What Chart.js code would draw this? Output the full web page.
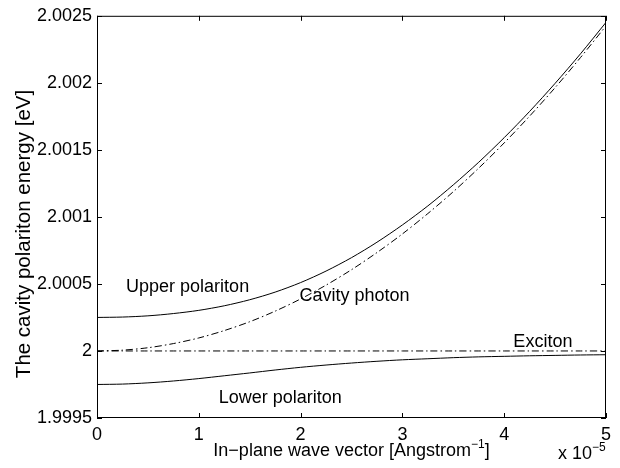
<!DOCTYPE html>
<html>
<head>
<meta charset="utf-8">
<script src="https://cdn.jsdelivr.net/npm/chart.js@4/dist/chart.umd.min.js"></script>
<style>
  html, body { margin: 0; padding: 0; background: #fff; }
  #wrap { width: 620px; height: 468px; }
</style>
</head>
<body>
<div id="wrap"><canvas id="chart"></canvas></div>
<script>
// polariton dispersion (x in units of 1e-5 1/Angstrom)
const K = [0, 0.25, 0.5, 0.75, 1, 1.25, 1.5, 1.75, 2, 2.25, 2.5, 2.75, 3, 3.25, 3.5, 3.75, 4, 4.25, 4.5, 4.75, 5];
const UPPER = [2.00025, 2.000253, 2.000262, 2.000279, 2.000303, 2.000337, 2.000382, 2.000439, 2.000510, 2.000596,
  2.000696, 2.000811, 2.000940, 2.001082, 2.001239, 2.001408, 2.001591, 2.001787, 2.001996, 2.002217, 2.002451];
const CAVITY = [2.0, 2.000006, 2.000024, 2.000055, 2.000097, 2.000152, 2.000218, 2.000297, 2.000388, 2.000491,
  2.000606, 2.000734, 2.000873, 2.001025, 2.001188, 2.001364, 2.001552, 2.001752, 2.001964, 2.002189, 2.002425];
const EXCITON = [2, 2, 2, 2, 2, 2, 2, 2, 2, 2, 2, 2, 2, 2, 2, 2, 2, 2, 2, 2, 2];
const LOWER = [1.99975, 1.999753, 1.999762, 1.999776, 1.999794, 1.999815, 1.999836, 1.999858, 1.999878, 1.999895,
  1.999910, 1.999923, 1.999934, 1.999942, 1.999950, 1.999956, 1.999960, 1.999964, 1.999967, 1.999970, 1.999972];

const X_TICKS = [0, 1, 2, 3, 4, 5];
const Y_TICKS = [1.9995, 2, 2.0005, 2.001, 2.0015, 2.002, 2.0025];

const NOTES = [
  { text: 'Upper polariton', x: 0.89, y: 2.00048 },
  { text: 'Cavity photon',   x: 2.53, y: 2.00041 },
  { text: 'Exciton',         x: 4.38, y: 2.000067 },
  { text: 'Lower polariton', x: 1.80, y: 1.99965 },
];

const FONT = '"Liberation Sans", Arial, Helvetica, sans-serif';
const DASHDOT = [7, 3, 1.5, 3];

const toPts = ys => K.map((k, i) => ({ x: k, y: ys[i] }));
const line = (ys, dash) => ({
  data: toPts(ys), borderColor: '#000', borderWidth: 1, borderDash: dash,
  pointRadius: 0, tension: 0.3, fill: false,
});

// MATLAB-like frame: box with inward ticks on all four sides, plus text
const framePlugin = {
  id: 'frame',
  afterDraw(chart) {
    const { ctx, chartArea: a, scales: { x, y } } = chart;
    ctx.save();
    ctx.strokeStyle = '#000';
    ctx.lineWidth = 1;
    ctx.strokeRect(a.left + 0.5, a.top + 0.5, a.right - a.left - 1, a.bottom - a.top - 1);
    ctx.beginPath();
    for (const v of X_TICKS) {
      const px = Math.round(x.getPixelForValue(v)) + 0.5;
      ctx.moveTo(px, a.bottom); ctx.lineTo(px, a.bottom - 5);
      ctx.moveTo(px, a.top); ctx.lineTo(px, a.top + 5);
    }
    for (const v of Y_TICKS) {
      const py = Math.round(y.getPixelForValue(v)) + 0.5;
      ctx.moveTo(a.left, py); ctx.lineTo(a.left + 5, py);
      ctx.moveTo(a.right, py); ctx.lineTo(a.right - 5, py);
    }
    ctx.stroke();

    ctx.fillStyle = '#000';
    ctx.font = '18px ' + FONT;
    ctx.textAlign = 'center';
    ctx.textBaseline = 'middle';
    for (const n of NOTES) ctx.fillText(n.text, x.getPixelForValue(n.x), y.getPixelForValue(n.y));

    // y title
    ctx.save();
    ctx.translate(24, 234);
    ctx.rotate(-Math.PI / 2);
    ctx.font = '20.5px ' + FONT;
    ctx.fillText('The cavity polariton energy [eV]', 0, 0);
    ctx.restore();

    // x title with superscript
    ctx.textBaseline = 'alphabetic';
    ctx.textAlign = 'left';
    const main = 'In\u2212plane wave vector [Angstrom';
    const sup = '\u22121';
    ctx.font = '18px ' + FONT;
    const wMain = ctx.measureText(main).width, wEnd = ctx.measureText(']').width;
    ctx.font = '12px ' + FONT;
    const wSup = ctx.measureText(sup).width;
    let sx = (a.left + a.right) / 2 - (wMain + wSup + wEnd) / 2;
    const base = 456;
    ctx.font = '18px ' + FONT;
    ctx.fillText(main, sx, base); sx += wMain;
    ctx.font = '12px ' + FONT;
    ctx.fillText(sup, sx, base - 8); sx += wSup;
    ctx.font = '18px ' + FONT;
    ctx.fillText(']', sx, base);

    // exponent
    ctx.fillText('x 10', 558, 459);
    const w10 = ctx.measureText('x 10').width;
    ctx.font = '12px ' + FONT;
    ctx.fillText('\u22125', 558 + w10, 451);
    ctx.restore();
  },
};

new Chart(document.getElementById('chart').getContext('2d'), {
  type: 'line',
  data: {
    datasets: [
      line(UPPER, []),
      line(CAVITY, DASHDOT),
      line(EXCITON, DASHDOT),
      line(LOWER, []),
    ],
  },
  options: {
    responsive: true, maintainAspectRatio: false, animation: false,
    layout: { padding: { left: 0, top: 15, right: 14, bottom: 0 } },
    plugins: { legend: { display: false }, tooltip: { enabled: false } },
    scales: {
      x: {
        type: 'linear', min: 0, max: 5,
        grid: { display: false, drawTicks: false }, border: { display: false },
        afterBuildTicks: s => { s.ticks = X_TICKS.map(v => ({ value: v })); },
        afterFit: s => { s.height = 50; },
        ticks: { color: '#000', padding: 6, maxRotation: 0, font: { family: FONT, size: 18 }, callback: v => String(v) },
      },
      y: {
        type: 'linear', min: 1.9995, max: 2.0025,
        grid: { display: false, drawTicks: false }, border: { display: false },
        afterBuildTicks: s => { s.ticks = Y_TICKS.map(v => ({ value: v })); },
        afterFit: s => { s.width = 97; },
        ticks: { color: '#000', padding: 5, font: { family: FONT, size: 18 }, callback: v => String(+(+v).toFixed(4)) },
      },
    },
  },
  plugins: [framePlugin],
});
</script>
</body>
</html>
